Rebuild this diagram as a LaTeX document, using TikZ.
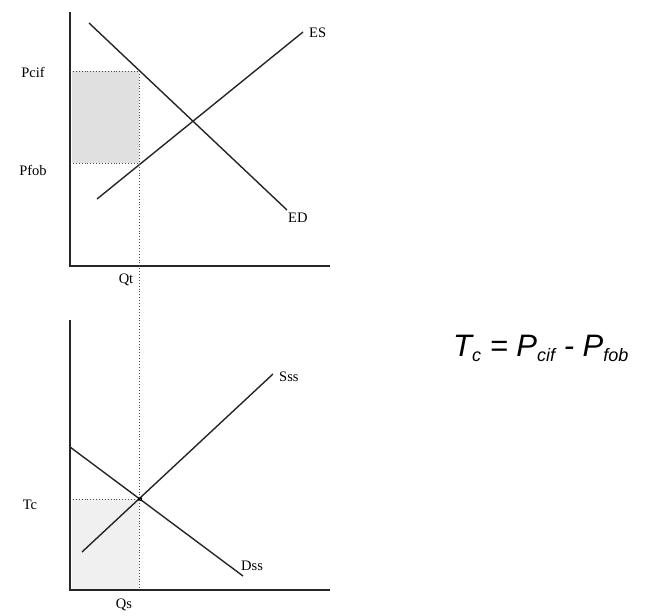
\documentclass[tikz,border=0pt]{standalone}
\usepackage{fontspec}
\setmainfont{Liberation Serif}
\newfontfamily\formulafont{Liberation Sans}
\usetikzlibrary{positioning}
\tikzset{
    axis/.style={line width=1.4pt, black!85},
    curve/.style={line width=1.4pt, black!85},
    guide/.style={dotted, line width=0.9pt, black!70},
    lbl/.style={font=\fontsize{14.5}{16}\selectfont, inner sep=1pt},
}
\begin{document}
\begin{tikzpicture}[x=1pt, y=-1pt]
    \useasboundingbox (0,0) rectangle (654,616);
    % upper panel: excess supply and demand
    \coordinate (o1) at (70,266);
    \fill[black!12] (72,71) rectangle (139,163);
    \draw[axis] (70,12) -- (o1) -- (330,266);
    \coordinate (ed1) at (89,23);
    \coordinate (ed2) at (287,210);
    \coordinate (es1) at (97,199);
    \coordinate (es2) at (303,32);
    \draw[curve] (ed1) -- (ed2);
    \draw[curve] (es1) -- (es2);
    \coordinate (pcif) at (139,71);
    \coordinate (pfob) at (139,163);
    \draw[guide] (70,71) -- (pcif);
    \draw[guide] (70,163) -- (pfob);
    \node[lbl, anchor=west] (es) at (308,33) {ES};
    \node[lbl, anchor=west] (ed) at (287,218) {ED};
    \node[lbl] (lcif) at (33,72) {Pcif};
    \node[lbl] (lfob) at (33,170) {Pfob};
    \node[lbl] (qt) at (126,280) {Qt};
    % lower panel: shipping services
    \coordinate (o2) at (70,590);
    \fill[black!6] (72,499) rectangle (139,589);
    \draw[axis] (70,320) -- (o2) -- (330,590);
    \coordinate (dss1) at (70,447);
    \coordinate (dss2) at (243,576);
    \coordinate (sss1) at (82,552);
    \coordinate (sss2) at (273,374);
    \draw[curve] (dss1) -- (dss2);
    \draw[curve] (sss1) -- (sss2);
    \coordinate (eq) at (140,499);
    \fill (eq) circle (2.2pt);
    \draw[guide] (70,499) -- (eq);
    \draw[guide] (pcif) -- (139,590);
    \node[lbl, anchor=west] (sss) at (278,377) {Sss};
    \node[lbl, anchor=west] (dss) at (240,566) {Dss};
    \node[lbl] (tc) at (30,505) {Tc};
    \node[lbl] (qs) at (124,605) {Qs};
    % transport cost
    \node[font=\formulafont\itshape\fontsize{31}{35}\selectfont, anchor=west, inner sep=0pt] (form) at (453,348)
        {T\raisebox{-0.3ex}{\fontsize{18}{19}\selectfont c} = P\raisebox{-0.3ex}{\fontsize{18}{19}\selectfont cif} - P\raisebox{-0.3ex}{\fontsize{18}{19}\selectfont fob}};
\end{tikzpicture}
\end{document}
